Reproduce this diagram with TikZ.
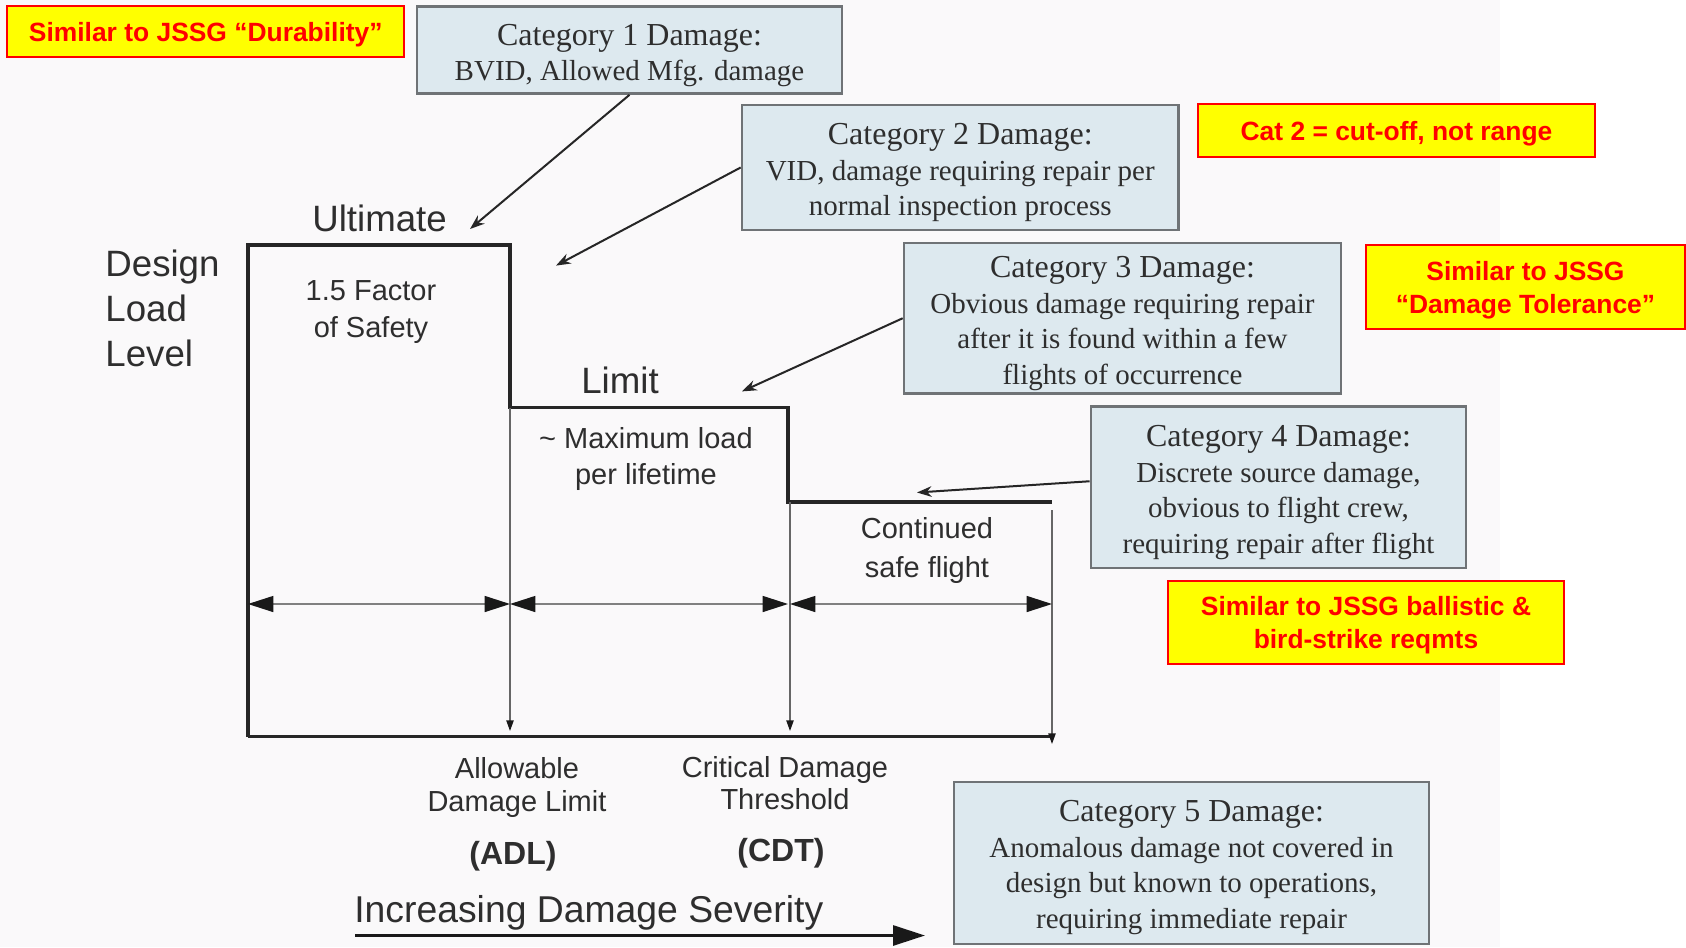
\documentclass[tikz,border=0pt]{standalone}
\usepackage{fontspec}
\setmainfont{Liberation Serif}
\setsansfont{Liberation Sans}
\usetikzlibrary{arrows.meta}
\definecolor{boxfill}{HTML}{DDE9EF}
\definecolor{boxline}{HTML}{6F7376}
\definecolor{ink}{HTML}{2E2E2E}
\definecolor{bgtint}{HTML}{FAF9FA}
\definecolor{hlred}{HTML}{FF0000}
\definecolor{hlyellow}{HTML}{FFFF00}
\begin{document}
\begin{tikzpicture}[x=0.75pt,y=-0.75pt,
  catbox/.style={draw=boxline, fill=boxfill, line width=2pt, inner sep=0pt},
  cattext/.style={align=center, text=ink, inner sep=0pt, font=\fontsize{21.75}{26.6}\selectfont},
  hlbox/.style={draw=hlred, fill=hlyellow, line width=1.5pt, inner sep=0pt},
  hltext/.style={text=hlred, align=center, inner sep=0pt,
    font=\sffamily\bfseries\fontsize{19.8}{24.4}\selectfont},
  catarrow/.style={draw=black!85, line width=1.5pt, -{Stealth[length=11pt,width=8pt]}},
  dimarrow/.style={draw=black!50, line width=1pt,
    {Triangle[length=19pt,width=12pt,color=black!90]}-{Triangle[length=19pt,width=12pt,color=black!90]}},
  dropline/.style={draw=black!60, line width=1pt, -{Triangle[length=8pt,width=5.5pt,color=black!90]}},
  stepline/.style={draw=black!85, line width=2.6pt, line join=miter},
  big/.style={text=ink, font=\sffamily\fontsize{27.5}{33.75}\selectfont},
  small/.style={text=ink, align=center, font=\sffamily\fontsize{21.75}{27}\selectfont},
  bold/.style={text=ink, font=\sffamily\bfseries\fontsize{24}{28}\selectfont}
]
\fill[white] (0,0) rectangle (1686,947);
\fill[bgtint] (0,0) rectangle (1500,947);
\useasboundingbox (0,0) rectangle (1686,947);

% highlight boxes
\node[hlbox, minimum width=297.4pt, minimum height=37.9pt] (y1) at (205.75,31.75) {};
\node[hltext] at ([yshift=-2.4pt]y1.center) {Similar to JSSG “Durability”};
\node[hlbox, minimum width=297.75pt, minimum height=39.75pt] (y2) at (1396.5,130.5) {};
\node[hltext] at ([yshift=-2.4pt]y2.center) {Cat 2 = cut-off, not range};
\node[hlbox, minimum width=239.25pt, minimum height=63pt] (y3) at (1525.5,287) {};
\node[hltext] at ([yshift=-2.4pt]y3.center) {Similar to JSSG\\“Damage Tolerance”};
\node[hlbox, minimum width=297.4pt, minimum height=62.25pt] (y4) at (1366,622) {};
\node[hltext] at ([yshift=-2.4pt]y4.center) {Similar to JSSG ballistic \&\\bird-strike reqmts};

% category boxes
\node[catbox, minimum width=318.75pt, minimum height=65.25pt] (c1) at (629.5,50) {};
\node[cattext] at ([yshift=-4pt]c1.center)
  {{\fontsize{24}{26.6}\selectfont Category 1 Damage:}\\BVID, Allowed Mfg. damage};
\node[catbox, minimum width=327.4pt, minimum height=93.75pt] (c2) at (960.25,167.5) {};
\node[cattext] at ([yshift=-4pt]c2.center)
  {{\fontsize{24}{26.6}\selectfont Category 2 Damage:}\\VID, damage requiring repair per\\normal inspection process};
\node[catbox, minimum width=327.75pt, minimum height=112.9pt] (c3) at (1122.5,318.25) {};
\node[cattext] at ([yshift=-4pt]c3.center)
  {{\fontsize{24}{26.6}\selectfont Category 3 Damage:}\\Obvious damage requiring repair\\after it is found within a few\\flights of occurrence};
\node[catbox, minimum width=281.25pt, minimum height=121.1pt] (c4) at (1278.5,487.25) {};
\node[cattext] at ([yshift=-4pt]c4.center)
  {{\fontsize{24}{26.6}\selectfont Category 4 Damage:}\\Discrete source damage,\\obvious to flight crew,\\requiring repair after flight};
\node[catbox, minimum width=356.25pt, minimum height=121.5pt] (c5) at (1191.5,863) {};
\node[cattext] at ([yshift=-3.5pt]c5.center)
  {{\fontsize{24}{26.6}\selectfont Category 5 Damage:}\\Anomalous damage not covered in\\design but known to operations,\\requiring immediate repair};

% chart coordinates
\coordinate (o) at (248,736.6);
\coordinate (ul) at (248,245);
\coordinate (ur) at (510,245);
\coordinate (ll) at (510,407.5);
\coordinate (lr) at (788,407.5);
\coordinate (cl) at (788,502);
\coordinate (cr) at (1052,502);
\coordinate (xe) at (1052,736.6);

\draw[stepline] (o) -- (ul) -- (ur) -- (ll) -- (lr) -- (cl) -- (cr);
\draw[stepline] (o) -- (xe);

\coordinate (d1) at (510,731);
\coordinate (d2) at (790,731);
\coordinate (d3) at (1052,744);
\coordinate (s2) at (790,502);
\coordinate (s3) at (1052,510);
\draw[dropline] (ll) -- (d1);
\draw[dropline] (s2) -- (d2);
\draw[dropline] (s3) -- (d3);

\coordinate (a0) at (248,604);
\coordinate (a1) at (510,604);
\coordinate (a2) at (788,604);
\coordinate (a3) at (790,604);
\coordinate (a4) at (1052,604);
\draw[dimarrow] (a0) -- (a1);
\draw[dimarrow] (a1) -- (a2);
\draw[dimarrow] (a3) -- (a4);

% category connectors
\coordinate (t1) at (470,229);
\coordinate (t2) at (556,265.6);
\coordinate (t3) at (742,391.4);
\coordinate (t4) at (917,492.5);
\draw[catarrow] (c1.south) -- (t1);
\draw[catarrow] (c2.west) -- (t2);
\draw[catarrow] (c3.west) -- (t3);
\draw[catarrow] ([yshift=4.5pt]c4.west) -- (t4);

% chart labels
\node[big] (ult) at (379.6,218) {Ultimate};
\node[big, align=left, anchor=west] (dll) at (100.7,308.6) {Design\\Load\\Level};
\node[small, font=\sffamily\fontsize{21.75}{28}\selectfont] (fos) at (371,312.2) {1.5 Factor\\of Safety};
\node[small] (mxl) at (646,458.7) {\textasciitilde{} Maximum load\\per lifetime};
\node[big] (lim) at (620,380.6) {Limit};
\node[small, font=\sffamily\fontsize{21.75}{29}\selectfont] (csf) at (927,550.6) {Continued\\safe flight};
\node[small, font=\sffamily\fontsize{21.75}{25}\selectfont] (adl) at (517,787.6) {Allowable\\Damage Limit};
\node[small, font=\sffamily\fontsize{21.75}{24}\selectfont] (cdt) at (785,783) {Critical Damage\\Threshold};
\node[bold] (adlb) at (513,856) {(ADL)};
\node[bold] (cdtb) at (781,853.7) {(CDT)};
\node[big, anchor=west, font=\sffamily\fontsize{28}{33.75}\selectfont] (ids) at (349.6,913) {Increasing Damage Severity};
\coordinate (i0) at (355,935.5);
\coordinate (i1) at (925,935.5);
\draw[draw=black!90, line width=2.2pt, -{Triangle[length=24pt,width=15pt]}] (i0) -- (i1);
\end{tikzpicture}
\end{document}
